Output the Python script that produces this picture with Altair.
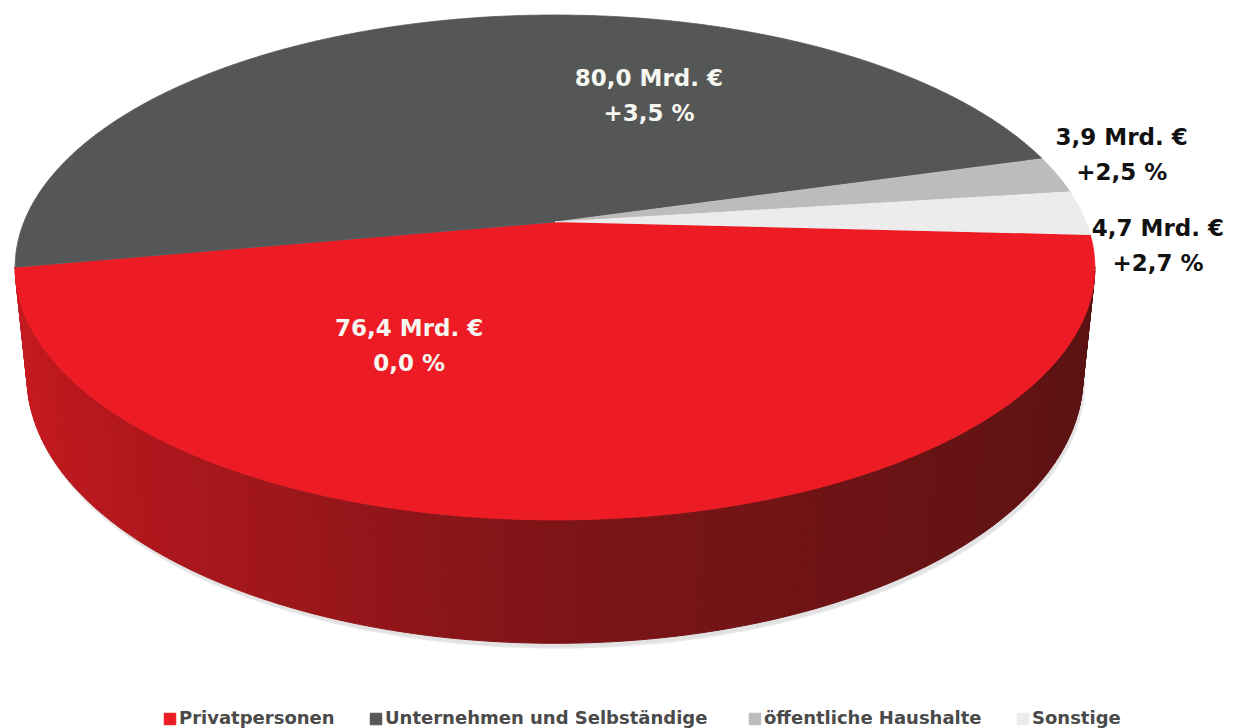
import math
import numpy as np
import pandas as pd
import altair as alt

# ---------------- data ----------------
categories = ["Privatpersonen", "Unternehmen und  Selbständige", "öffentliche Haushalte", "Sonstige"]
volumes_bn = [76.4, 80.0, 3.9, 4.7]
volume_labels = ["76,4 Mrd. €", "80,0 Mrd. €", "3,9 Mrd. €", "4,7 Mrd. €"]
change_labels = ["0,0 %", "+3,5 %", "+2,5 %", "+2,7 %"]

# ---------------- style ----------------
top_colors = ["#ED1C24", "#555757", "#BCBCBC", "#ECECEC"]
label_colors = ["#F7F7F2", "#F7F7F2", "#111111", "#111111"]
side_range = ["#5A1212", "#7E1417", "#C8191F"]

W, H = 1220, 720
CX, CY = 547.0, 214.0          # projected pie centre (plot coords)
FOCAL = 2618.0
DIST = 4.93
SIN_P = 0.46
COS_P = math.sqrt(1 - SIN_P ** 2)
THICK = 0.234
START_DEG = 3.0
LABEL_PLACE = [(32, 0.53), (32, 0.60), (-3, 1.16), (7, 1.12)]  # (angle nudge, radius)


def project(theta_deg, r=1.0, level=0.0):
    t = np.radians(theta_deg)
    X = r * np.cos(t)
    Z = r * np.sin(t)
    Y = level
    depth = DIST - Y * SIN_P - Z * COS_P
    yc = Y * COS_P - Z * SIN_P
    return CX + FOCAL * X / depth, CY - FOCAL * yc / depth


total = sum(volumes_bn)
bounds = START_DEG + 360.0 * np.concatenate([[0.0], np.cumsum(volumes_bn)]) / total

# top faces
top_rows = []
for i, cat in enumerate(categories):
    a0, a1 = bounds[i], bounds[i + 1]
    n = max(3, int(math.ceil((a1 - a0) / 0.5)))
    thetas = np.linspace(a0, a1, n)
    px, py = project(0.0, r=0.0)
    top_rows.append(dict(pid=f"t{i}", k=0, x=float(px), y=float(py), category=cat))
    for j, th in enumerate(thetas):
        x, y = project(th)
        top_rows.append(dict(pid=f"t{i}", k=j + 1, x=float(x), y=float(y), category=cat))
top_df = pd.DataFrame(top_rows)

# visible side strips
side_rows = []
VIS0, VIS1 = 10.2, 169.8
sid = 0
for i, cat in enumerate(categories):
    for base in (0.0, 360.0):
        a0 = max(bounds[i] - base, VIS0)
        a1 = min(bounds[i + 1] - base, VIS1)
        if a1 <= a0:
            continue
        n = max(2, int(math.ceil((a1 - a0) / 1.0)) + 1)
        th = np.linspace(a0, a1, n)
        for j in range(n - 1):
            ta, tb = th[j], th[j + 1]
            shade = float(-math.cos(math.radians((ta + tb) / 2)))
            quad = [project(ta), project(tb), project(tb, level=-THICK), project(ta, level=-THICK), project(ta)]
            for k, (x, y) in enumerate(quad):
                side_rows.append(dict(pid=f"s{sid:04d}", k=k, x=float(x), y=float(y), shade=shade))
            sid += 1
side_df = pd.DataFrame(side_rows)

# soft shadow under the pie
sh_rows = []
for j, th in enumerate(np.linspace(0, 360, 241)):
    x, y = project(th, r=1.0, level=-THICK - 0.006)
    sh_rows.append(dict(pid="sh", k=j, x=float(x) + 2, y=float(y) + 1.5))
shadow_df = pd.DataFrame(sh_rows)

# labels
lab_rows = []
for i in range(len(categories)):
    mid = (bounds[i] + bounds[i + 1]) / 2 + LABEL_PLACE[i][0]
    x, y = project(mid, r=LABEL_PLACE[i][1])
    lab_rows.append(dict(x=float(x), y=float(y),
                         text=volume_labels[i] + "\n" + change_labels[i],
                         tcol=label_colors[i]))
lab_df = pd.DataFrame(lab_rows)

xs = alt.X("x:Q", scale=alt.Scale(domain=[0, W], nice=False, zero=False), axis=None)
ys = alt.Y("y:Q", scale=alt.Scale(domain=[0, H], nice=False, zero=False, reverse=True), axis=None)

shadow = alt.Chart(shadow_df).mark_line(
    fill="#A0A0A0", stroke="#B5B5B5", strokeWidth=1.5, opacity=0.3, interpolate="linear"
).encode(x=xs, y=ys, order=alt.Order("k:Q"), detail="pid:N")

side = alt.Chart(side_df).mark_line(strokeWidth=1.0, strokeJoin="miter", interpolate="linear").encode(
    x=xs, y=ys, order=alt.Order("k:Q"), detail="pid:N",
    fill=alt.Fill("shade:Q", scale=alt.Scale(domain=[-1, 0, 1], range=side_range), legend=None),
    stroke=alt.Stroke("shade:Q", scale=alt.Scale(domain=[-1, 0, 1], range=side_range), legend=None),
)

top = alt.Chart(top_df).mark_line(strokeWidth=0.8, strokeJoin="round", interpolate="linear").encode(
    x=xs, y=ys, order=alt.Order("k:Q"), detail="pid:N",
    fill=alt.Fill(
        "category:N",
        scale=alt.Scale(domain=categories, range=top_colors),
        legend=alt.Legend(
            title=None, orient="none", legendX=153, legendY=702,
            direction="horizontal", columns=4, symbolType="square", symbolSize=140,
            symbolStrokeColor="#8A8A8A", symbolStrokeWidth=0.6,
            labelFont="DejaVu Sans", labelFontWeight="bold", labelFontSize=18,
            labelColor="#4A4A4A", labelOffset=0, columnPadding=32, labelLimit=500,
        ),
    ),
    stroke=alt.Stroke("category:N", scale=alt.Scale(domain=categories, range=top_colors), legend=None),
)

labels = alt.Chart(lab_df).mark_text(
    font="DejaVu Sans", fontWeight="bold", fontSize=23, lineBreak="\n", lineHeight=35,
    align="center", baseline="middle", dy=-17,
).encode(x=xs, y=ys, text="text:N", color=alt.Color("tcol:N", scale=None))

chart = alt.layer(shadow, side, top, labels).resolve_scale(
    fill="independent", stroke="independent"
).properties(
    width=W, height=H, padding=0, autosize=alt.AutoSizeParams(type="none"),
    background="white",
).configure_view(stroke=None)

chart.save("out.html", embed_options={"renderer": "svg", "actions": False})
